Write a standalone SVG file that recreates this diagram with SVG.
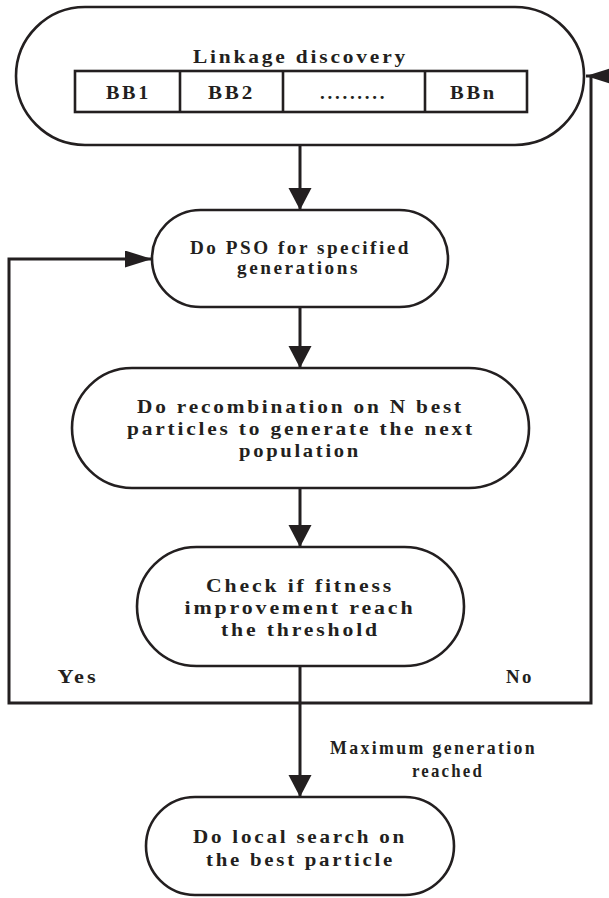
<svg xmlns="http://www.w3.org/2000/svg" width="609" height="898" viewBox="0 0 609 898">
<style>
.shape{fill:#fff;stroke:#231f20;stroke-width:2.6}
.cell{fill:none;stroke:#231f20;stroke-width:2.6}
.conn{fill:none;stroke:#231f20;stroke-width:3;stroke-linejoin:miter}
text{font-family:"Liberation Serif","Times New Roman",serif;font-weight:bold;font-size:19px;letter-spacing:2.5px;fill:#231f20;text-anchor:middle}
</style>
<defs>
<marker id="arrowV" markerUnits="userSpaceOnUse" markerWidth="24" markerHeight="24" refX="22" refY="11.5" orient="auto" viewBox="0 0 24 24">
<path d="M0,0 L22,11.5 L0,23 Z" fill="#231f20"/>
</marker>
<marker id="arrowH" markerUnits="userSpaceOnUse" markerWidth="28" markerHeight="18" refX="27" refY="8.5" orient="auto" viewBox="0 0 28 18">
<path d="M0,0 L27,8.5 L0,17 Z" fill="#231f20"/>
</marker>
</defs>

<g id="connectors">
<path class="conn" d="M300,145 V210" marker-end="url(#arrowV)"/>
<path class="conn" d="M300,307 V368" marker-end="url(#arrowV)"/>
<path class="conn" d="M300,488 V547" marker-end="url(#arrowV)"/>
<path class="conn" d="M300,666 V797" marker-end="url(#arrowV)"/>
<path class="conn" d="M300,703 H9 V259 H152" marker-end="url(#arrowH)"/>
<path class="conn" d="M300,703 H591 V76 H586" marker-end="url(#arrowH)"/>
<text x="78" y="683" textLength="41" lengthAdjust="spacingAndGlyphs">Yes</text>
<text x="520" y="683" textLength="28" lengthAdjust="spacingAndGlyphs">No</text>
<text x="433.5" y="754" textLength="207" lengthAdjust="spacingAndGlyphs">Maximum generation</text>
<text x="448" y="777" textLength="72" lengthAdjust="spacingAndGlyphs">reached</text>
</g>

<g id="linkage">
<rect class="shape" x="16" y="7" width="568" height="138" rx="69" ry="69"/>
<text x="300.5" y="63" textLength="215" lengthAdjust="spacingAndGlyphs">Linkage discovery</text>
<rect class="cell" x="75" y="71" width="452" height="41"/>
<line class="cell" x1="180" y1="71" x2="180" y2="112"/>
<line class="cell" x1="283" y1="71" x2="283" y2="112"/>
<line class="cell" x1="425" y1="71" x2="425" y2="112"/>
<text x="128.5" y="99" textLength="45" lengthAdjust="spacingAndGlyphs">BB1</text>
<text x="231.5" y="99" textLength="47" lengthAdjust="spacingAndGlyphs">BB2</text>
<text x="353.5" y="99" textLength="67" lengthAdjust="spacing">.........</text>
<text x="473.5" y="99" textLength="47" lengthAdjust="spacingAndGlyphs">BBn</text>
</g>

<g id="pso">
<rect class="shape" x="152" y="210" width="296" height="97" rx="48.5" ry="48.5"/>
<text x="300.5" y="254" textLength="221" lengthAdjust="spacingAndGlyphs">Do PSO for specified</text>
<text x="298.5" y="274" textLength="123" lengthAdjust="spacingAndGlyphs">generations</text>
</g>

<g id="recombination">
<rect class="shape" x="72" y="368" width="457" height="120" rx="60" ry="60"/>
<text x="300.5" y="413" textLength="327" lengthAdjust="spacingAndGlyphs">Do recombination on N best</text>
<text x="301" y="435" textLength="348" lengthAdjust="spacingAndGlyphs">particles to generate the next</text>
<text x="300" y="457" textLength="122" lengthAdjust="spacingAndGlyphs">population</text>
</g>

<g id="check">
<rect class="shape" x="137" y="547" width="327" height="119" rx="59.5" ry="59.5"/>
<text x="300" y="592" textLength="188" lengthAdjust="spacingAndGlyphs">Check if fitness</text>
<text x="300" y="614" textLength="231" lengthAdjust="spacingAndGlyphs">improvement reach</text>
<text x="300.5" y="636" textLength="159" lengthAdjust="spacingAndGlyphs">the threshold</text>
</g>

<g id="localsearch">
<rect class="shape" x="146" y="797" width="308" height="98" rx="49" ry="49"/>
<text x="300" y="843" textLength="214" lengthAdjust="spacingAndGlyphs">Do local search on</text>
<text x="300.5" y="866" textLength="189" lengthAdjust="spacingAndGlyphs">the best particle</text>
</g>
</svg>
